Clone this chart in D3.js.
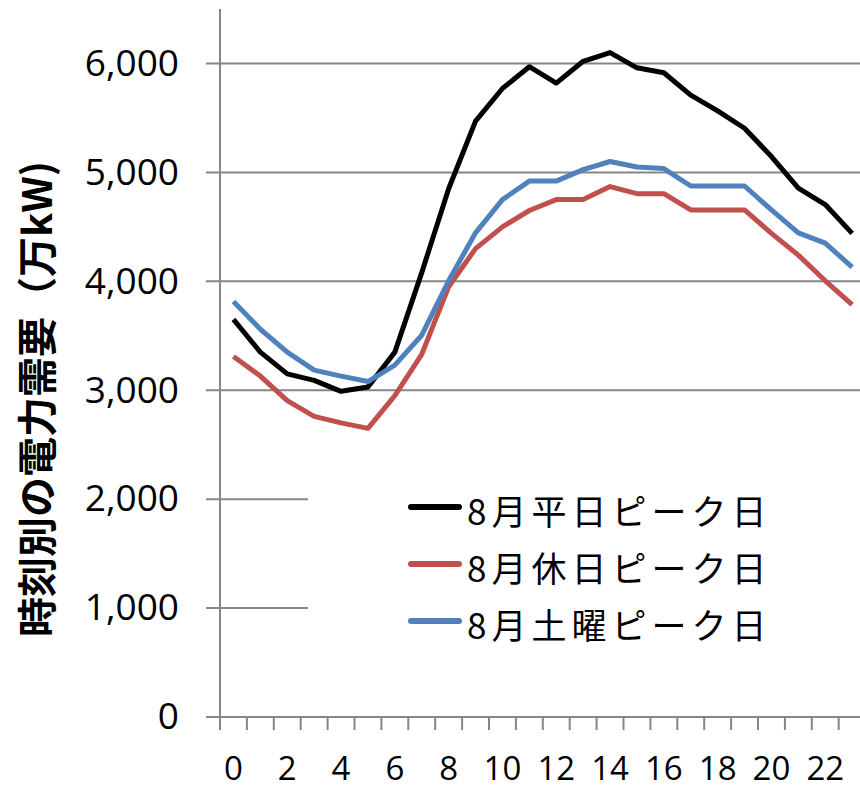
<!DOCTYPE html>
<html>
<head>
<meta charset="utf-8">
<script src="https://cdn.jsdelivr.net/npm/d3@7"></script>
<style>
  body { margin: 0; background: #fff; }
  svg { display: block; }
</style>
</head>
<body>
<div id="chart"></div>
<script>
// data
const hours = d3.range(0, 24)
const hourLabels = ['0', '2', '4', '6', '8', '10', '12', '14', '16', '18', '20', '22']
const yTicks = [0, 1000, 2000, 3000, 4000, 5000, 6000]

const weekdayPeak = [3650, 3350, 3150, 3090, 2990, 3030, 3350, 4080, 4850, 5470, 5770, 5970,
  5820, 6020, 6100, 5960, 5915, 5710, 5565, 5405, 5145, 4855, 4705, 4440]
const holidayPeak = [3310, 3130, 2905, 2760, 2700, 2650, 2950, 3330, 3950, 4300, 4500, 4650,
  4750, 4750, 4870, 4805, 4805, 4655, 4655, 4655, 4440, 4240, 4005, 3785]
const saturdayPeak = [3815, 3560, 3350, 3185, 3130, 3080, 3230, 3505, 4005, 4445, 4750, 4920,
  4920, 5025, 5100, 5050, 5035, 4875, 4875, 4875, 4655, 4445, 4350, 4130]

const seriesNames = ['8月平日ピーク日', '8月休日ピーク日', '8月土曜ピーク日']
const seriesColors = ['#000000', '#c0504d', '#4f81bd']
const seriesValues = [weekdayPeak, holidayPeak, saturdayPeak]

const width = 860
const height = 790
const plot = { left: 220, top: 9, bottom: 717 }
const step = 26.9

const svg = d3.select('#chart')
  .append('svg')
  .attr('width', width)
  .attr('height', height)

// scales
const xPositionScale = d3.scaleBand()
  .domain(hours)
  .range([plot.left, plot.left + step * hours.length])
  .paddingInner(0)
const yPositionScale = d3.scaleLinear()
  .domain([0, 6500])
  .range([plot.bottom, plot.top])

const gridColor = '#868686'

// gridlines + little ticks to the left of the axis
svg.append('g')
  .attr('class', 'grid')
  .selectAll('line')
  .data(yTicks)
  .enter()
  .append('line')
  .attr('x1', plot.left - 14)
  .attr('x2', width)
  .attr('y1', d => yPositionScale(d))
  .attr('y2', d => yPositionScale(d))
  .attr('stroke', gridColor)
  .attr('stroke-width', 2)

// y axis labels
const yAxis = d3.axisLeft(yPositionScale)
  .tickValues(yTicks)
  .tickFormat(d3.format(','))
  .tickSize(0)
  .tickPadding(41)
svg.append('g')
  .attr('class', 'axis y-axis')
  .attr('transform', 'translate(' + plot.left + ',0)')
  .call(yAxis)
  .call(g => g.select('.domain').remove())
  .selectAll('text')
  .attr('font-family', '"Open Sans", "Noto Sans", sans-serif')
  .attr('font-size', 37)
  .attr('fill', '#000')

// y axis line
svg.append('line')
  .attr('x1', plot.left)
  .attr('x2', plot.left)
  .attr('y1', plot.top)
  .attr('y2', plot.bottom)
  .attr('stroke', gridColor)
  .attr('stroke-width', 2)

// x axis: ticks sit on the band boundaries
svg.append('g')
  .attr('class', 'axis x-axis')
  .selectAll('line')
  .data(hours)
  .enter()
  .append('line')
  .attr('x1', d => xPositionScale(d))
  .attr('x2', d => xPositionScale(d))
  .attr('y1', plot.bottom)
  .attr('y2', plot.bottom + 13)
  .attr('stroke', gridColor)
  .attr('stroke-width', 2)

svg.append('g')
  .attr('class', 'x-labels')
  .selectAll('text')
  .data(hourLabels)
  .enter()
  .append('text')
  .text(d => d)
  .attr('x', d => xPositionScale(+d) + xPositionScale.bandwidth() / 2)
  .attr('y', 780)
  .attr('text-anchor', 'middle')
  .attr('font-family', '"Open Sans", "Noto Sans", sans-serif')
  .attr('font-size', 33)
  .attr('fill', '#000')

// y axis title
svg.append('text')
  .text('時刻別の電力需要（万kW)')
  .attr('transform', 'translate(35,399) rotate(-90)')
  .attr('text-anchor', 'middle')
  .attr('dominant-baseline', 'central')
  .attr('font-family', '"Noto Sans CJK JP", sans-serif')
  .attr('font-weight', 'bold')
  .attr('font-size', 40)
  .attr('fill', '#000')

// legend box hides the gridlines behind it
svg.append('rect')
  .attr('x', 308)
  .attr('y', 478)
  .attr('width', width - 308)
  .attr('height', 168)
  .attr('fill', '#fff')

// lines
const line = d3.line()
  .x((d, i) => xPositionScale(hours[i]) + xPositionScale.bandwidth() / 2)
  .y(d => yPositionScale(d))

svg.selectAll('.series')
  .data(seriesValues)
  .enter()
  .append('path')
  .attr('class', 'series')
  .attr('d', line)
  .attr('fill', 'none')
  .attr('stroke', (d, i) => seriesColors[i])
  .attr('stroke-width', 5)
  .attr('stroke-linejoin', 'round')

// legend
const legend = svg.append('g')
  .attr('class', 'legend')
  .selectAll('g')
  .data(seriesNames)
  .enter()
  .append('g')
  .attr('transform', (d, i) => 'translate(0,' + (507 + i * 57) + ')')

legend.append('line')
  .attr('x1', 411)
  .attr('x2', 459)
  .attr('stroke', (d, i) => seriesColors[i])
  .attr('stroke-width', 6)
  .attr('stroke-linecap', 'round')

legend.append('text')
  .text(d => d)
  .attr('x', 467)
  .attr('y', 2)
  .attr('dominant-baseline', 'central')
  .attr('font-family', '"Noto Sans CJK JP", sans-serif')
  .attr('font-size', 35)
  .attr('letter-spacing', 5)
  .attr('fill', '#000')
</script>
</body>
</html>
